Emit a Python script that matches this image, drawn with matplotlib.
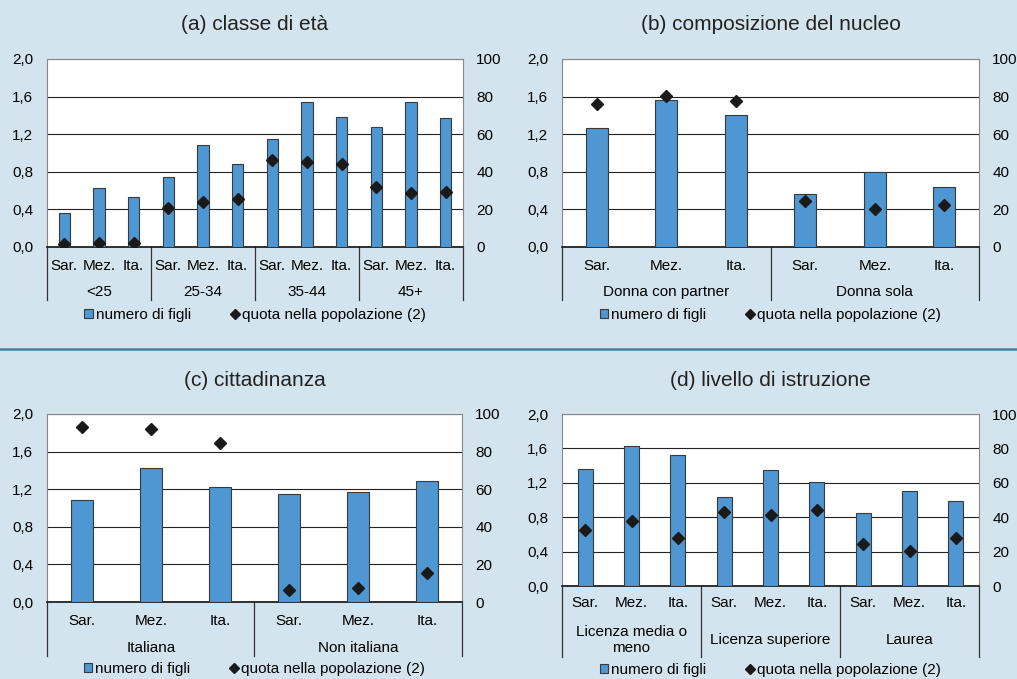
import numpy as np
import matplotlib.pyplot as plt
from matplotlib.transforms import blended_transform_factory
from matplotlib.lines import Line2D
from matplotlib.patches import Patch

plt.rcParams['font.family'] = ['Liberation Sans', 'DejaVu Sans']

# (a) classe di eta
eta_gruppi = ['<25', '25-34', '35-44', '45+']
eta_figli = [0.36, 0.63, 0.53, 0.75, 1.09, 0.88, 1.15, 1.54, 1.38, 1.28, 1.54, 1.37]
eta_quota = [1.6, 2.1, 1.9, 20.7, 24.2, 25.3, 46.2, 45.1, 44.1, 32.0, 28.8, 29.2]

# (b) composizione del nucleo
nucleo_gruppi = ['Donna con partner', 'Donna sola']
nucleo_figli = [1.27, 1.56, 1.40, 0.56, 0.80, 0.64]
nucleo_quota = [75.8, 80.2, 77.9, 24.4, 20.0, 22.3]

# (c) cittadinanza
citt_gruppi = ['Italiana', 'Non italiana']
citt_figli = [1.09, 1.43, 1.22, 1.15, 1.17, 1.29]
citt_quota = [93.3, 92.0, 84.4, 6.4, 7.4, 15.2]

# (d) livello di istruzione
istr_gruppi = ['Licenza media o\nmeno', 'Licenza superiore', 'Laurea']
istr_figli = [1.36, 1.63, 1.52, 1.04, 1.35, 1.21, 0.85, 1.11, 0.99]
istr_quota = [32.7, 37.9, 27.8, 42.8, 41.4, 44.4, 24.5, 20.6, 27.8]

aree = ['Sar.', 'Mez.', 'Ita.']

W, H = 1017, 679
BG = '#d3e4ee'
BAR = '#4f97d3'
FS = 11

fig = plt.figure(figsize=(W / 100, H / 100), dpi=100)
fig.patch.set_facecolor(BG)


def fy(py):
    return 1 - py / H


def panel(box, title, title_y, gruppi, figli, quota, sub_y, grp_y, line_end, leg_y):
    x0, y0, x1, y1 = box
    ax = fig.add_axes([x0 / W, fy(y1), (x1 - x0) / W, (y1 - y0) / H])
    n = len(figli)
    x = np.arange(n)
    ax.bar(x, figli, width=0.32, color=BAR, edgecolor='#3a3a3a', linewidth=0.8, zorder=3)
    ax.set_xlim(-0.5, n - 0.5)
    ax.set_ylim(0, 2.0)
    yt = np.arange(0, 2.01, 0.4)
    ax.set_yticks(yt)
    ax.set_yticklabels([f'{v:.1f}'.replace('.', ',') for v in yt], fontsize=FS)
    ax.yaxis.grid(True, color='#222222', linewidth=0.8, zorder=0)
    ax.set_xticks([])
    ax.tick_params(axis='y', length=0, pad=10)
    for s in ['top', 'left', 'right']:
        ax.spines[s].set_color('#888888')
    ax.spines['bottom'].set_color('#111111')
    ax.spines['bottom'].set_linewidth(1.2)

    ax2 = ax.twinx()
    ax2.plot(x, quota, linestyle='none', marker='D', markersize=6.5, color='#1a1a1a', zorder=5)
    ax2.set_ylim(0, 100)
    ax2.set_yticks(np.arange(0, 101, 20))
    ax2.tick_params(axis='y', length=0, pad=9.5, labelsize=FS)
    for s in ax2.spines.values():
        s.set_visible(False)

    tr = blended_transform_factory(ax.transData, fig.transFigure)
    for i in range(n):
        ax.text(i, fy(sub_y), aree[i % 3], transform=tr, ha='center', va='center', fontsize=FS)
    for g, name in enumerate(gruppi):
        ax.text(3 * g + 1, fy(grp_y), name, transform=tr, ha='center', va='center',
                fontsize=FS, linespacing=1.15)
    for b in range(len(gruppi) + 1):
        xb = 3 * b - 0.5
        ax.plot([xb, xb], [fy(y1), fy(line_end)], transform=tr, color='#333333',
                linewidth=0.9, clip_on=False)

    fig.text((x0 + x1) / 2 / W, fy(title_y), title, ha='center', va='center', fontsize=15,
             color='#222222')

    handles = [Patch(facecolor=BAR, edgecolor='#3a3a3a', linewidth=0.8),
               Line2D([], [], linestyle='none', marker='D', markersize=5.5, color='#1a1a1a')]
    fig.legend(handles, ['numero di figli', 'quota nella popolazione (2)'],
               loc='center', bbox_to_anchor=((x0 + x1) / 2 / W, fy(leg_y)), ncol=2,
               frameon=False, fontsize=FS, handlelength=0.55, handletextpad=0.2,
               columnspacing=2.6, handleheight=0.55)
    return ax


panel((47, 59, 463, 247), '(a) classe di età', 25, eta_gruppi, eta_figli, eta_quota,
      266, 292, 300, 315)
panel((562, 59, 979, 247), '(b) composizione del nucleo', 25, nucleo_gruppi, nucleo_figli,
      nucleo_quota, 266, 292, 300, 315)
panel((47, 414, 462, 602), '(c) cittadinanza', 381, citt_gruppi, citt_figli, citt_quota,
      621, 648, 656, 669)
panel((562, 414, 979, 586), '(d) livello di istruzione', 381, istr_gruppi, istr_figli,
      istr_quota, 603, 640, 657, 670)

fig.add_artist(Line2D([0, 1], [fy(349.5), fy(349.5)], color='#3f7f9f', linewidth=1.8))

fig.savefig('out.png', dpi=100, facecolor=BG)
